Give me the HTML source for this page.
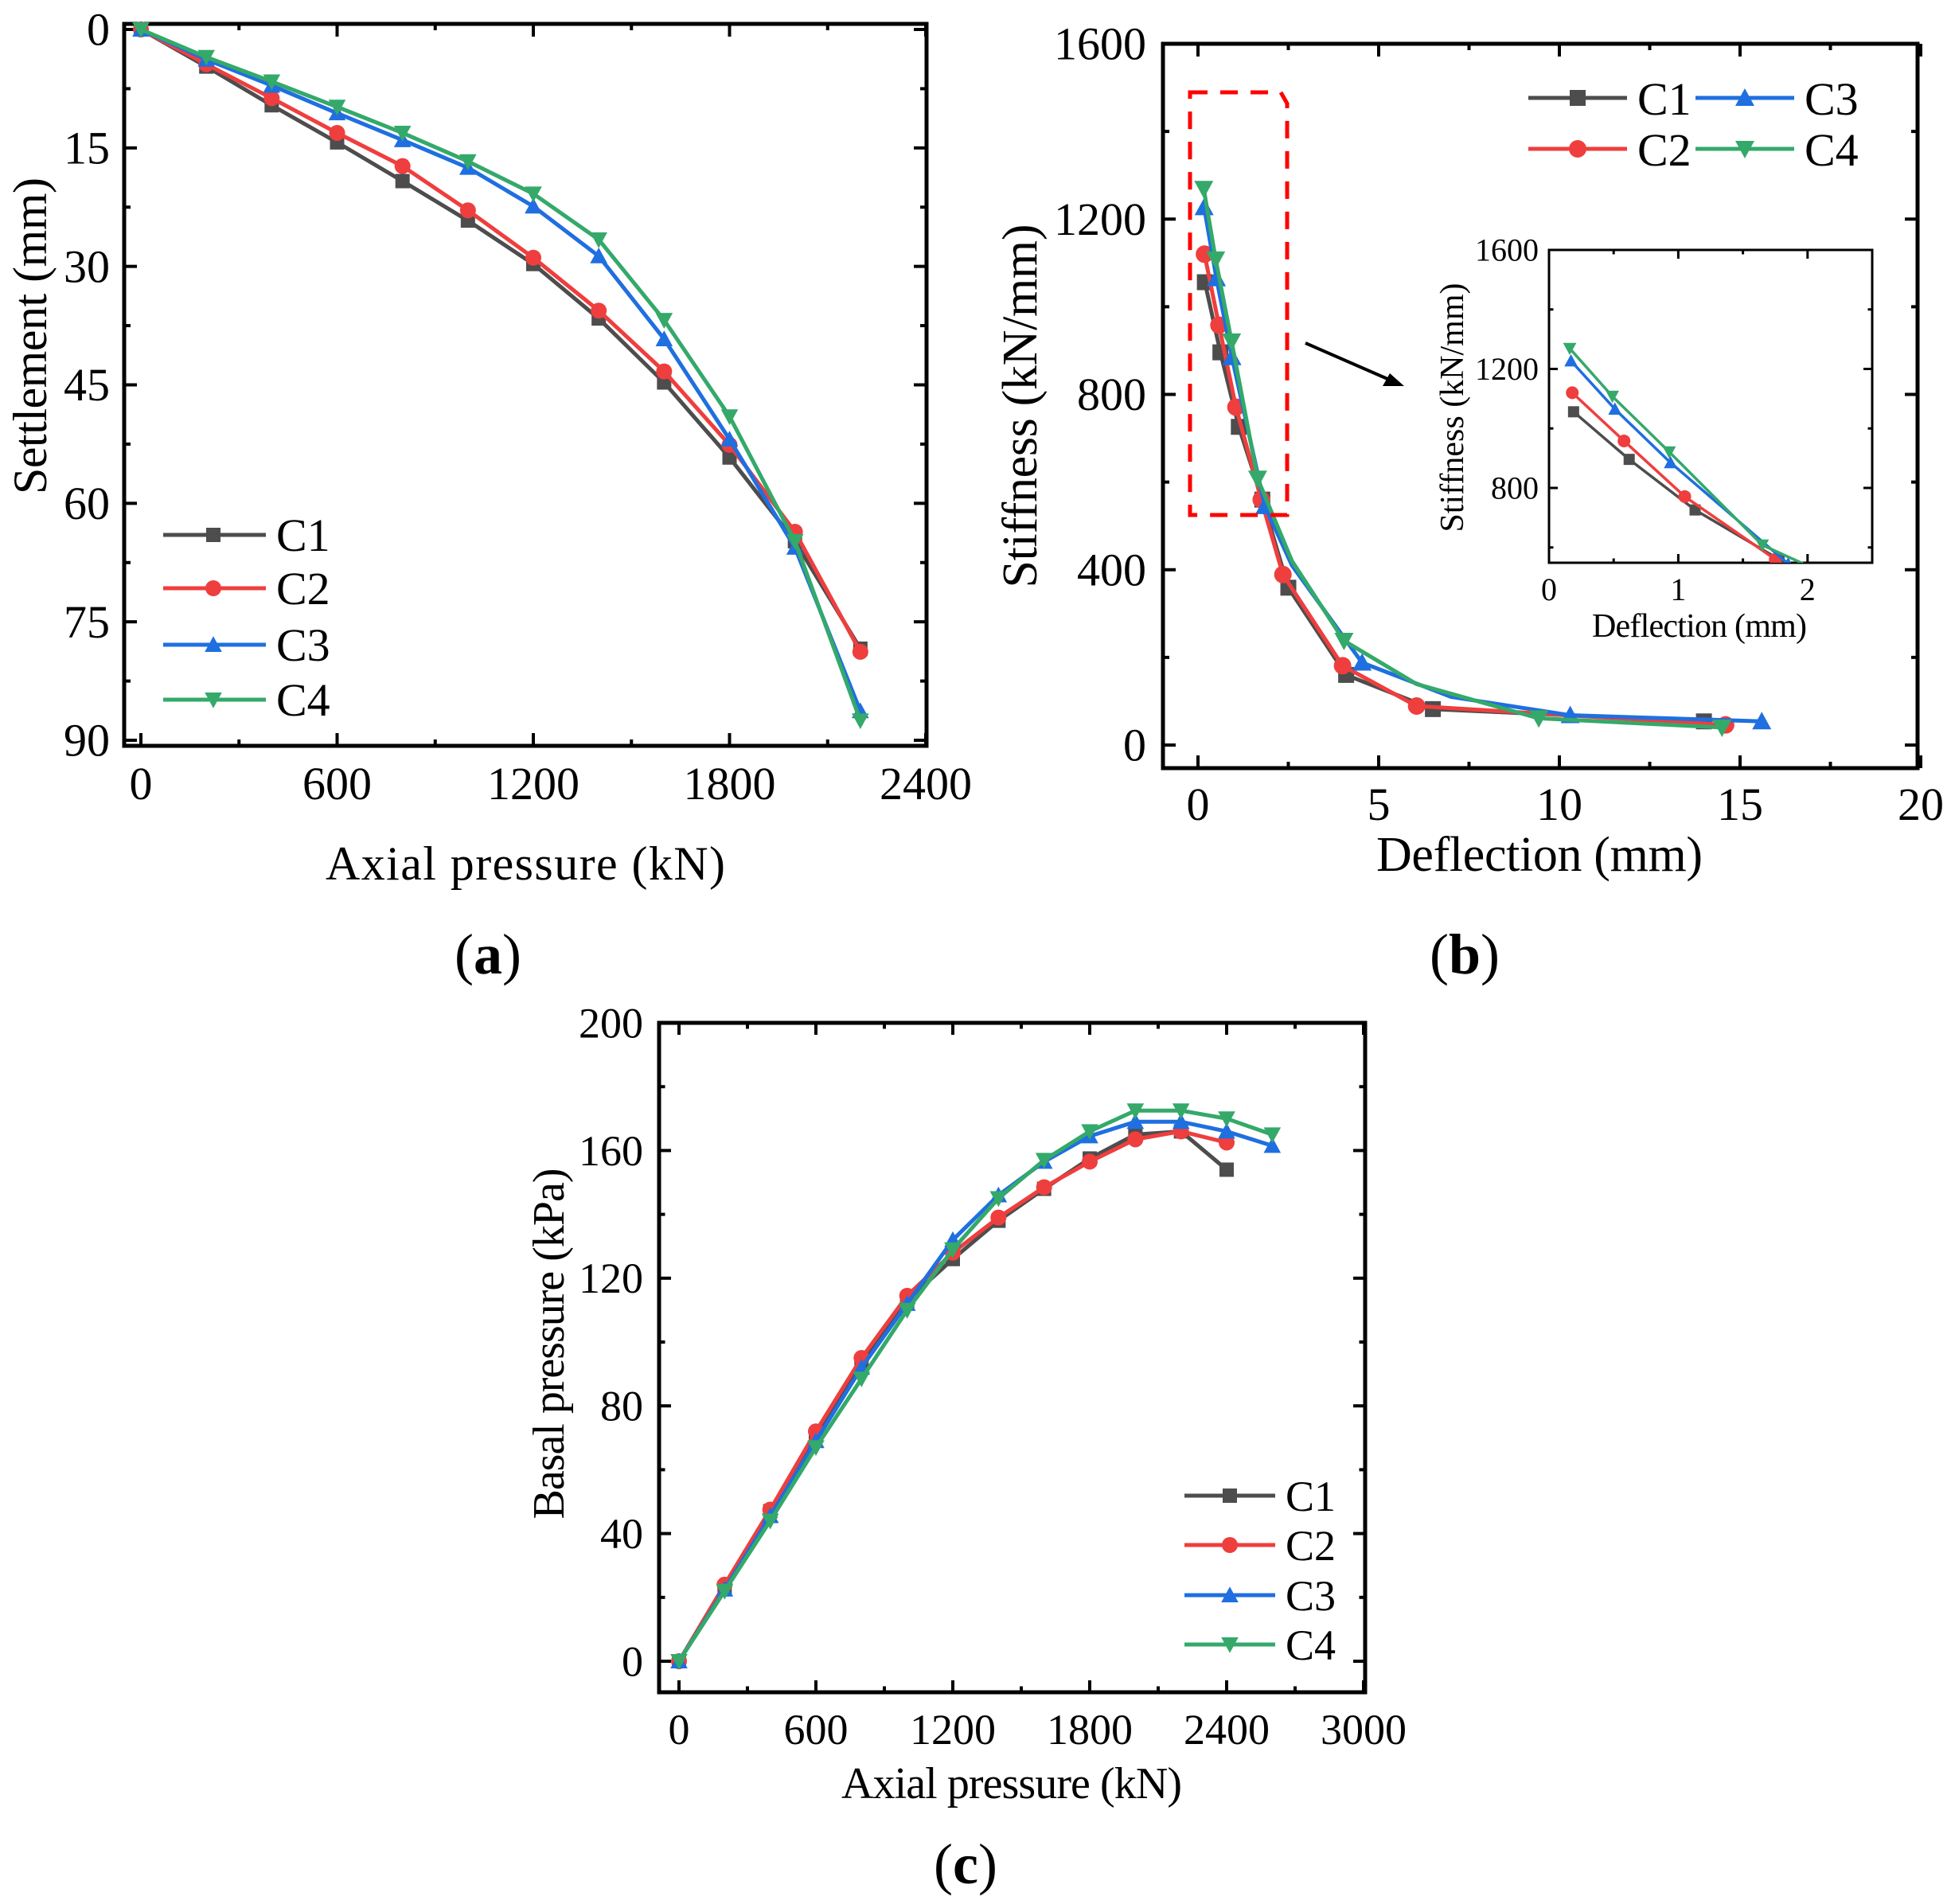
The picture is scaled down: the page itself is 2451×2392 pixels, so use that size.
<!DOCTYPE html>
<html><head><meta charset="utf-8"><style>
html,body{margin:0;padding:0;background:#fff}
svg{display:block;font-family:"Liberation Serif","Times New Roman",serif}
</style></head><body>
<svg id="fig" width="2451" height="2392" viewBox="0 0 2451 2392" xmlns="http://www.w3.org/2000/svg">
<rect width="2451" height="2392" fill="#fff"/>
</svg>
<script>
// ---------- Panel (a) data ----------
const aX = [0,200,400,600,800,1000,1200,1400,1600,1800,2000,2200];
const aC1 = [0,4.7,9.6,14.3,19.2,24.2,29.7,36.6,44.7,54.2,64.8,78.4];
const aC2 = [0,4.4,8.7,13.1,17.3,22.9,28.9,35.6,43.3,52.6,63.6,78.8];
const aC3 = [0,3.8,7.1,10.6,14.0,17.5,22.4,28.7,39.2,51.9,65.6,86.3];
const aC4 = [0,3.5,6.6,9.8,13.1,16.7,20.8,26.6,36.8,49.0,64.8,87.5];
const aXTicks = ["0","600","1200","1800","2400"];
const aYTicks = ["0","15","30","45","60","75","90"];
// ---------- Panel (b) data ----------
const bC1x = [0.19,0.62,1.13,1.78,2.5,4.1,6.5,14.0];
const bC1y = [1056,896,726,560,359,160,82,54];
const bC2x = [0.18,0.58,1.05,1.75,2.35,4.0,6.05,14.6];
const bC2y = [1120,958,771,560,389,181,89,46];
const bC3x = [0.17,0.51,0.94,1.85,2.6,4.54,7.0,10.3,15.6];
const bC3y = [1227,1065,885,545,410,188,110,68,54];
const bC3m = [1,1,1,1,0,1,0,1,1];
const bC4x = [0.16,0.49,0.93,1.65,2.6,4.04,6.05,9.43,14.5];
const bC4y = [1269,1108,921,608,420,238,139,61,40];
const bC4m = [1,1,1,1,0,1,0,1,1];
const bXTicks = ["0","5","10","15","20"];
const bYTicks = ["0","400","800","1200","1600"];
const insXTicks = ["0","1","2"];
const insYTicks = ["800","1200","1600"];
// ---------- Panel (c) data ----------
const cX = [0,200,400,600,800,1000,1200,1400,1600,1800,2000,2200,2400,2600];
const cC1 = [0,23,47,71,94,113,126,138,148,157.5,165,166,154];
const cC2 = [0,24,47.5,72,95,114.5,128,139,148.5,156.5,163.5,166,162.5];
const cC3 = [0,22.5,45.5,69,92,112,132,146,156.5,164.5,169,169,166,161.5];
const cC4 = [0,22,44,67,88.5,110,129,145,157,166,172.5,172.5,170,165];
const cXTicks = ["0","600","1200","1800","2400","3000"];
const cYTicks = ["0","40","80","120","160","200"];

const COL = {C1:"#4d4d4d",C2:"#ef3e3e",C3:"#1f6fe0",C4:"#34a96a"};
const SHAPE = {C1:"square",C2:"circle",C3:"up",C4:"down"};
const NS="http://www.w3.org/2000/svg";
const svg=document.getElementById('fig');
function mk(tag,attrs,parent){const e=document.createElementNS(NS,tag);for(const k in attrs)e.setAttribute(k,attrs[k]);(parent||svg).appendChild(e);return e;}
function lin(d0,d1,p0,p1){return v=>p0+(v-d0)*(p1-p0)/(d1-d0);}

function marker(g,shape,x,y,s,col){
  let e;
  if(shape==="square") e=mk('rect',{x:x-s/2,y:y-s/2,width:s,height:s,fill:col},g);
  else if(shape==="circle") e=mk('circle',{cx:x,cy:y,r:s/2+1,fill:col},g);
  else if(shape==="up") e=mk('polygon',{points:`${x-s*0.6},${y+s*0.5} ${x+s*0.6},${y+s*0.5} ${x},${y-s*0.6}`,fill:col},g);
  else e=mk('polygon',{points:`${x-s*0.6},${y-s*0.5} ${x+s*0.6},${y-s*0.5} ${x},${y+s*0.6}`,fill:col},g);
  return e;
}

function series(g,name,xs,ys,sx,sy,s,lw,mflags){
  const pts=[];for(let i=0;i<ys.length;i++)pts.push(sx(xs[i])+","+sy(ys[i]));
  const pl=mk('polyline',{points:pts.join(" "),fill:"none",stroke:COL[name],"stroke-width":lw,"stroke-linejoin":"round"},g);
  
  
  for(let i=0;i<ys.length;i++){
    if(mflags && !mflags[i]) continue;
    const m=marker(g,SHAPE[name],sx(xs[i]),sy(ys[i]),s,COL[name]);
    
    
  }
}

function axes(o){
  const g=mk('g',{});
  
  
  const L=o.box[0],T=o.box[1],R=o.box[2],B=o.box[3];
  const maj=o.tl, mn=o.tl/2;
  o.xMaj.forEach((v,i)=>{
    const x=o.sx(v);
    mk('line',{x1:x,y1:B,x2:x,y2:B-maj,stroke:"#000","stroke-width":o.tw},g);
    mk('line',{x1:x,y1:T,x2:x,y2:T+maj,stroke:"#000","stroke-width":o.tw},g);
    const t=mk('text',{x:x,y:o.xLabY,"font-size":o.fs,"text-anchor":"middle"},g);
    t.textContent=o.xLab[i];
    
    
  });
  o.xMin.forEach(v=>{const x=o.sx(v);
    mk('line',{x1:x,y1:B,x2:x,y2:B-mn,stroke:"#000","stroke-width":o.tw},g);
    mk('line',{x1:x,y1:T,x2:x,y2:T+mn,stroke:"#000","stroke-width":o.tw},g);});
  o.yMaj.forEach((v,i)=>{
    const y=o.sy(v);
    mk('line',{x1:L,y1:y,x2:L+maj,y2:y,stroke:"#000","stroke-width":o.tw},g);
    mk('line',{x1:R,y1:y,x2:R-maj,y2:y,stroke:"#000","stroke-width":o.tw},g);
    const t=mk('text',{x:o.yLabX,y:y+o.fs*0.34,"font-size":o.fs,"text-anchor":"end"},g);
    t.textContent=o.yLab[i];
    
    
  });
  o.yMin.forEach(v=>{const y=o.sy(v);
    mk('line',{x1:L,y1:y,x2:L+mn,y2:y,stroke:"#000","stroke-width":o.tw},g);
    mk('line',{x1:R,y1:y,x2:R-mn,y2:y,stroke:"#000","stroke-width":o.tw},g);});
  const fr=mk('rect',{x:L,y:T,width:R-L,height:B-T,fill:"none",stroke:"#000","stroke-width":o.bw},g);
  
  
  return g;
}
function text(x,y,s,fs,opts){
  const t=mk('text',Object.assign({x:x,y:y,"font-size":fs},opts||{}));t.textContent=s;return t;
}
function range(a,b,st){const r=[];for(let v=a;v<=b+1e-9;v+=st)r.push(v);return r;}

// ================= Panel (a) =================
{
  const sx=lin(0,2400,177,1163), sy=lin(0,90,37,930);
  axes({name:'panel-a-axes',box:[156,30,1164,937],sx,sy,tl:16,tw:4,bw:5,fs:58,
    xMaj:range(0,2400,600),xLab:aXTicks,xMin:range(300,2100,600),xLabY:1004,
    yMaj:range(0,90,15),yLab:aYTicks,yMin:range(7.5,82.5,15),yLabX:138});
  const g=mk('g',{});
  series(g,'C1',aX,aC1,sx,sy,18,5);
  series(g,'C2',aX,aC2,sx,sy,18,5);
  series(g,'C3',aX,aC3,sx,sy,18,5);
  series(g,'C4',aX,aC4,sx,sy,18,5);
  let t=text(660,1105,"Axial pressure (kN)",60,{"text-anchor":"middle",textLength:502});
  
  t=text(0,0,"Settlement (mm)",60,{"text-anchor":"middle",textLength:398,transform:"translate(58,422) rotate(-90)"});
  
  const names=['C1','C2','C3','C4'], ly=[672,739,810,879];
  names.forEach((n,i)=>{
    const lg=mk('g',{});
    mk('line',{x1:205,y1:ly[i],x2:334,y2:ly[i],stroke:COL[n],"stroke-width":5},lg);
    marker(lg,SHAPE[n],268,ly[i],18,COL[n]);
    const tt=mk('text',{x:347,y:ly[i]+20,"font-size":58},lg);tt.textContent=n;
  });
  t=mk('text',{x:613,y:1223,"font-size":72,"text-anchor":"middle"});
  t.innerHTML='(<tspan font-weight="bold">a</tspan>)';
  
}

// ================= Panel (b) =================
{
  const sx=lin(0,20,1505,2413), sy=lin(0,1600,936,55);
  axes({name:'panel-b-axes',box:[1461,55,2409,965],sx,sy,tl:16,tw:4,bw:5,fs:58,
    xMaj:range(0,20,5),xLab:bXTicks,xMin:range(2.5,17.5,5),xLabY:1030,
    yMaj:range(0,1600,400),yLab:bYTicks,yMin:range(200,1400,400),yLabX:1440});
  const g=mk('g',{});
  series(g,'C1',bC1x,bC1y,sx,sy,20,5);
  series(g,'C2',bC2x,bC2y,sx,sy,20,5);
  series(g,'C3',bC3x,bC3y,sx,sy,20,5,bC3m);
  series(g,'C4',bC4x,bC4y,sx,sy,20,5,bC4m);
  let t=text(1934,1094,"Deflection (mm)",62,{"text-anchor":"middle",textLength:410});
  
  t=text(0,0,"Stiffness (kN/mm)",62,{"text-anchor":"middle",textLength:457,transform:"translate(1302,510) rotate(-90)"});
  
  const L=[['C1',1920,123],['C3',2130,123],['C2',1920,187],['C4',2130,187]];
  L.forEach(([n,x0,y])=>{
    const lg=mk('g',{});
    mk('line',{x1:x0,y1:y,x2:x0+124,y2:y,stroke:COL[n],"stroke-width":5},lg);
    marker(lg,SHAPE[n],x0+62,y,20,COL[n]);
    const tt=mk('text',{x:x0+137,y:y+21,"font-size":58},lg);tt.textContent=n;
  });
  const zb=mk('path',{d:"M1495,116 L1609,116 L1617,130 L1617,647 L1495,647 Z",fill:"none",stroke:"#ff0000","stroke-width":5,"stroke-dasharray":"22,16"});
  
  const ar=mk('g',{});
  mk('line',{x1:1640,y1:431,x2:1750,y2:479,stroke:"#000","stroke-width":4},ar);
  mk('polygon',{points:"1764,485 1737,485 1746,469",fill:"#000"},ar);
  const ix=lin(0,2.5,1946,2352), iy=lin(800,1600,613,314);
  axes({name:'inset-axes',box:[1946,314,2352,707],sx:ix,sy:iy,tl:11,tw:3,bw:3,fs:40,
    xMaj:[0,1,2],xLab:insXTicks,xMin:[0.5,1.5],xLabY:754,
    yMaj:[800,1200,1600],yLab:insYTicks,yMin:[600,1000,1400],yLabX:1933});
  const cp=mk('clipPath',{id:'insclip'});mk('rect',{x:1946,y:314,width:406,height:393},cp);
  const ig=mk('g',{"clip-path":"url(#insclip)"});
  series(ig,'C1',bC1x,bC1y,ix,iy,14,3.5);
  series(ig,'C2',bC2x,bC2y,ix,iy,14,3.5);
  series(ig,'C3',bC3x,bC3y,ix,iy,14,3.5,bC3m);
  series(ig,'C4',bC4x,bC4y,ix,iy,14,3.5,bC4m);
  t=text(2135,800,"Deflection (mm)",42,{"text-anchor":"middle",textLength:270});
  
  t=text(0,0,"Stiffness (kN/mm)",42,{"text-anchor":"middle",textLength:313,transform:"translate(1838,512) rotate(-90)"});
  
  t=mk('text',{x:1840,y:1223,"font-size":72,"text-anchor":"middle"});
  t.innerHTML='(<tspan font-weight="bold">b</tspan>)';
  
}

// ================= Panel (c) =================
{
  const sx=lin(0,3000,853,1713), sy=lin(0,200,2087,1285);
  axes({name:'panel-c-axes',box:[828,1285,1715,2126],sx,sy,tl:15,tw:4,bw:5,fs:54,
    xMaj:range(0,3000,600),xLab:cXTicks,xMin:range(300,2700,600),xLabY:2191,
    yMaj:range(0,200,40),yLab:cYTicks,yMin:range(20,180,40),yLabX:808});
  const g=mk('g',{});
  series(g,'C1',cX,cC1,sx,sy,18,5);
  series(g,'C2',cX,cC2,sx,sy,18,5);
  series(g,'C3',cX,cC3,sx,sy,18,5);
  series(g,'C4',cX,cC4,sx,sy,18,5);
  let t=text(1271,2259,"Axial pressure (kN)",56,{"text-anchor":"middle",textLength:428});
  
  t=text(0,0,"Basal pressure (kPa)",56,{"text-anchor":"middle",textLength:441,transform:"translate(708,1688) rotate(-90)"});
  
  const names=['C1','C2','C3','C4'], ly=[1879,1941,2004,2066];
  names.forEach((n,i)=>{
    const lg=mk('g',{});
    mk('line',{x1:1488,y1:ly[i],x2:1602,y2:ly[i],stroke:COL[n],"stroke-width":5},lg);
    marker(lg,SHAPE[n],1545,ly[i],18,COL[n]);
    const tt=mk('text',{x:1615,y:ly[i]+19,"font-size":54},lg);tt.textContent=n;
  });
  t=mk('text',{x:1213,y:2366,"font-size":72,"text-anchor":"middle"});
  t.innerHTML='(<tspan font-weight="bold">c</tspan>)';
  
}
</script>
</body></html>
